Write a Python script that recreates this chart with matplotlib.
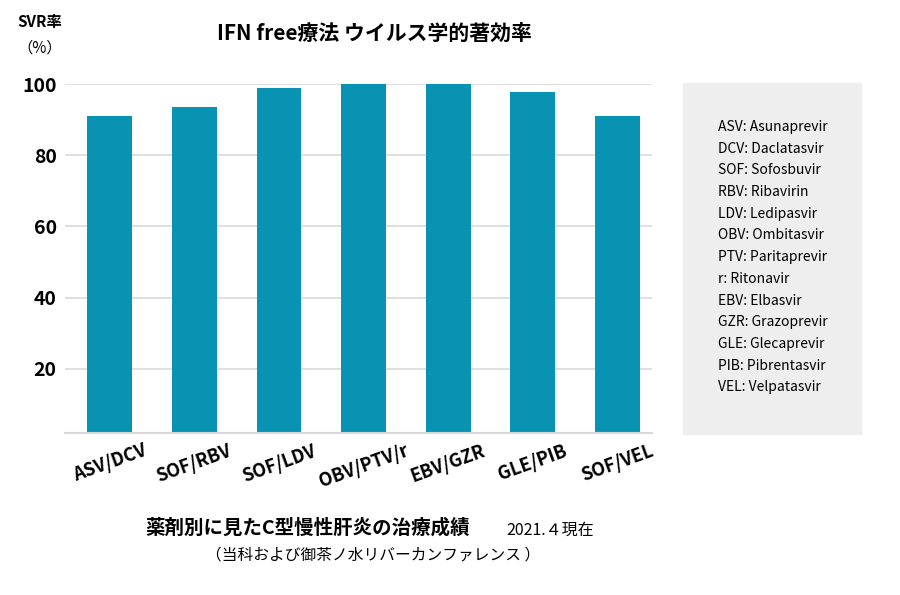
import matplotlib
matplotlib.use("Agg")
import matplotlib.pyplot as plt
from matplotlib.patches import Rectangle

plt.rcParams['font.family'] = ['Noto Sans CJK JP', 'DejaVu Sans']

regimens = ["ASV/DCV", "SOF/RBV", "SOF/LDV", "OBV/PTV/r", "EBV/GZR", "GLE/PIB", "SOF/VEL"]
svr_rate = [91, 93.5, 98.8, 100, 100, 97.7, 91]
y_ticks = [20, 40, 60, 80, 100]
abbrevs = ["ASV: Asunaprevir", "DCV: Daclatasvir", "SOF: Sofosbuvir", "RBV: Ribavirin",
           "LDV: Ledipasvir", "OBV: Ombitasvir", "PTV: Paritaprevir", "r: Ritonavir",
           "EBV: Elbasvir", "GZR: Grazoprevir", "GLE: Glecaprevir", "PIB: Pibrentasvir",
           "VEL: Velpatasvir"]

fig = plt.figure(figsize=(9, 5.95), dpi=100)
ax = fig.add_axes([65/900, 1-433/595, (652-65)/900, (433-84)/595])

x = list(range(len(regimens)))
ax.bar(x, svr_rate, width=0.53, color='#0893B3', zorder=2)
ax.set_xlim(-0.53, 6.41)
ax.set_ylim(2, 100)
ax.set_yticks(y_ticks)
ax.set_yticklabels([str(t) for t in y_ticks], fontsize=14, fontweight='bold')
ax.yaxis.grid(True, color='#d9d9d9', lw=1.2, zorder=0)
ax.set_xticks(x)
ax.set_xticklabels(regimens, rotation=20, fontsize=13, fontweight='bold', ha='center')
ax.tick_params(length=0, pad=6)
ax.tick_params(axis='y', pad=6)
for s in ['top', 'right', 'left']:
    ax.spines[s].set_visible(False)
ax.spines['bottom'].set_color('#d9d9d9')
ax.spines['bottom'].set_linewidth(1.5)

fig.text(374/900, 1-33/595, "IFN free療法 ウイルス学的著効率", ha='center', va='center',
         fontsize=15, fontweight='bold')
fig.text(40/900, 1-22/595, "SVR率", ha='center', va='center', fontsize=11, fontweight='bold')
fig.text(40/900, 1-48/595, "（%）", ha='center', va='center', fontsize=11)

# abbreviation box
fig.patches.append(Rectangle((683/900, 1-434/595), (861-683)/900, (434-83)/595,
                             transform=fig.transFigure, color='#eeeeee', zorder=0))
for i, s in enumerate(abbrevs):
    fig.text(718/900, 1-(127+21.7*i)/595, s, ha='left', va='center', fontsize=10)

fig.text(145/900, 1-528/595, "薬剤別に見たC型慢性肝炎の治療成績", ha='left', va='center',
         fontsize=14, fontweight='bold')
fig.text(506/900, 1-530/595, "2021.４現在", ha='left', va='center', fontsize=11.5)
fig.text(373/900, 1-556/595, "（当科および御茶ノ水リバーカンファレンス ）", ha='center', va='center',
         fontsize=11.3)

fig.savefig("out.png", dpi=100)
